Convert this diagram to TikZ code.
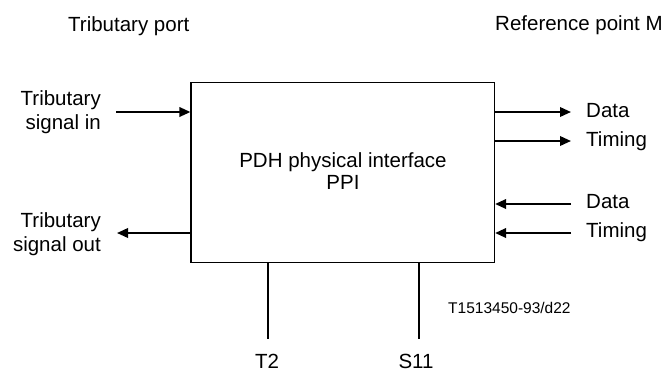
\documentclass[tikz,border=0pt]{standalone}
\usepackage{fontspec}
\setmainfont{Liberation Sans}
\usetikzlibrary{arrows.meta}
\tikzset{
  lbl/.style={inner sep=0pt, font=\fontsize{20.5}{24}\selectfont},
  blk/.style={draw, line width=1.2pt, minimum width=303.5pt, minimum height=179.8pt, inner sep=0pt},
  arr/.style={line width=2pt, -{Triangle[length=11pt,width=9.5pt]}},
  lead/.style={line width=2pt}
}
\begin{document}
\begin{tikzpicture}[x=1pt,y=-1pt]
\useasboundingbox (0,0) rectangle (661,376);
% block
\node[blk] (box) at (342.75,172.4) {};
\node[lbl, align=center, font=\fontsize{20.5}{22}\selectfont] (ppi) at (343,171.5) {PDH physical interface\\PPI};
% top labels
\node[lbl, anchor=base west] (tp) at (68,31) {Tributary port};
\node[lbl, anchor=base west] (rp) at (495,30) {Reference point M};
% left labels
\node[lbl, align=right, anchor=east] (tin) at (101,112.6) {Tributary\\signal in};
\node[lbl, align=right, anchor=east] (tout) at (101,234.5) {Tributary\\signal out};
\coordinate (inT) at (116,112);
\coordinate (outT) at (117,233);
\draw[arr] (inT) -- (box.west |- inT);
\draw[arr] (box.west |- outT) -- (outT);
% right labels
\node[lbl, anchor=base west] (d1) at (586,117) {Data};
\node[lbl, anchor=base west] (t1) at (586,146.5) {Timing};
\node[lbl, anchor=base west] (d2) at (586,208.5) {Data};
\node[lbl, anchor=base west] (t2) at (586,237.5) {Timing};
\coordinate (r1) at (571,112);
\coordinate (r2) at (571,141);
\coordinate (r3) at (571,204);
\coordinate (r4) at (571,233);
\draw[arr] (box.east |- r1) -- (r1);
\draw[arr] (box.east |- r2) -- (r2);
\draw[arr] (r3) -- (box.east |- r3);
\draw[arr] (r4) -- (box.east |- r4);
% bottom
\node[lbl, anchor=base] (T2) at (267,368) {T2};
\node[lbl, anchor=base] (S11) at (416,368) {S11};
\coordinate (b1) at (268,339);
\coordinate (b2) at (419,339);
\draw[lead] (box.south -| b1) -- (b1);
\draw[lead] (box.south -| b2) -- (b2);
\node[inner sep=0pt, anchor=base west, font=\fontsize{15.5}{18}\selectfont] (id) at (448,313) {T1513450-93/d22};
\end{tikzpicture}
\end{document}
